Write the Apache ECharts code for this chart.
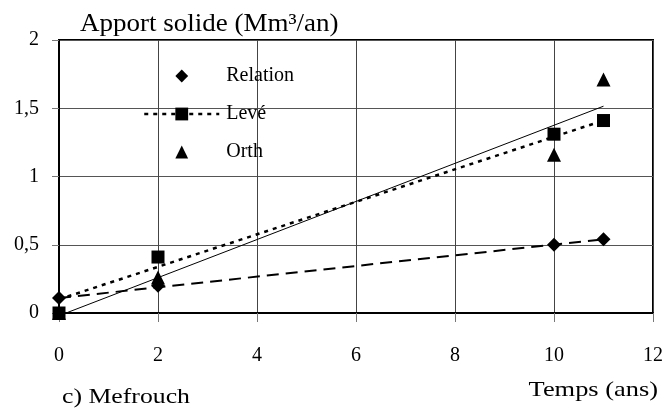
<!DOCTYPE html>
<html>
<head>
<meta charset="utf-8">
<script src="https://cdn.jsdelivr.net/npm/echarts@6/dist/echarts.min.js"></script>
<style>
  html, body { margin: 0; padding: 0; background: #fff; }
  #container { width: 667px; height: 414px; }
</style>
</head>
<body>
<div id="container"></div>
<script>
// annees mesurees
var years = [0, 2, 10, 11];
// apport solide (Mm3/an)
var relation = [0.11, 0.2, 0.5, 0.54];
var leve = [0, 0.41, 1.31, 1.41];
var orth = [0, 0.26, 1.16, 1.71];
// courbes de tendance (debut, fin)
var trendX = [0, 11];
var trendRelation = [0.11, 0.54];
var trendLeve = [0.1, 1.41];
var trendOrth = [-0.02, 1.515];

var serif = '"Liberation Serif", "Times New Roman", serif';

function pairs(xs, ys) {
	var res = [];
	for (var i = 0; i < xs.length; i++) {
		res.push([xs[i], ys[i]]);
	}
	return res;
}

// series de points sans trait (le trait est la tendance)
function points(name, ys, symbol, size, z) {
	return {
		name: name,
		type: 'line',
		data: pairs(years, ys),
		symbol: symbol,
		symbolSize: size,
		showAllSymbol: true,
		lineStyle: { opacity: 0 },
		itemStyle: { color: '#000', opacity: 1 },
		z: z
	};
}

function trend(name, ys, style) {
	return {
		name: name,
		type: 'line',
		data: pairs(trendX, ys),
		symbol: 'none',
		silent: true,
		lineStyle: style,
		z: 2
	};
}

var myChart = echarts.init(document.getElementById('container'));

var option = {
	animation: false,
	backgroundColor: '#fff',
	grid: {
		left: 59,
		right: 14,
		top: 40,
		bottom: 101,
		show: true,
		borderColor: '#000',
		borderWidth: 2
	},
	xAxis: {
		type: 'value',
		min: 0,
		max: 12,
		interval: 2,
		axisLine: { show: true, onZero: false, lineStyle: { color: '#000', width: 2 } },
		axisTick: { show: true, length: 9, lineStyle: { color: '#777' } },
		splitLine: { show: true, lineStyle: { color: '#444', width: 1 } },
		axisLabel: {
			margin: 33,
			color: '#000',
			fontSize: 20,
			fontFamily: serif
		}
	},
	yAxis: {
		type: 'value',
		min: 0,
		max: 2,
		interval: 0.5,
		axisLine: { show: true, lineStyle: { color: '#000', width: 2 } },
		axisTick: { show: true, length: 7, lineStyle: { color: '#777' } },
		splitLine: { show: true, lineStyle: { color: '#555', width: 1 } },
		axisLabel: {
			margin: 20,
			color: '#000',
			fontSize: 20,
			fontFamily: serif,
			formatter: function (v) {
				return String(v).replace('.', ',');
			}
		}
	},
	legend: {
		orient: 'vertical',
		left: 143,
		top: 65,
		padding: 0,
		itemWidth: 75,
		itemHeight: 16,
		itemGap: 16,
		textStyle: {
			color: '#000',
			fontSize: 20,
			fontFamily: serif,
			lineHeight: 22,
			padding: [0, 0, 0, 2]
		},
		data: [
			{ name: 'Relation', lineStyle: { opacity: 0 } },
			{ name: 'Levé', lineStyle: { color: '#000', width: 2.5, type: [4, 5], opacity: 1 } },
			{ name: 'Orth', lineStyle: { opacity: 0 } }
		]
	},
	graphic: [{
		type: 'text',
		x: 80,
		y: 24,
		scaleX: 1.08,
		style: {
			text: 'Apport solide (Mm³/an)',
			font: '25px ' + serif,
			fill: '#000',
			align: 'left',
			verticalAlign: 'middle'
		}
	}, {
		type: 'text',
		x: 62,
		y: 397,
		scaleX: 1.17,
		style: {
			text: 'c) Mefrouch',
			font: '22px ' + serif,
			fill: '#000',
			align: 'left',
			verticalAlign: 'middle'
		}
	}, {
		type: 'text',
		x: 658,
		y: 390,
		scaleX: 1.2,
		style: {
			text: 'Temps (ans)',
			font: '22px ' + serif,
			fill: '#000',
			align: 'right',
			verticalAlign: 'middle'
		}
	}],
	series: [
		trend('trend-relation', trendRelation, { color: '#000', width: 2, type: [12, 7] }),
		trend('trend-leve', trendLeve, { color: '#000', width: 2.5, type: [4, 5] }),
		trend('trend-orth', trendOrth, { color: '#000', width: 1 }),
		points('Orth', orth, 'triangle', 14, 3),
		points('Levé', leve, 'rect', 13, 4),
		points('Relation', relation, 'diamond', 14, 5)
	]
};

myChart.setOption(option);
</script>
</body>
</html>
